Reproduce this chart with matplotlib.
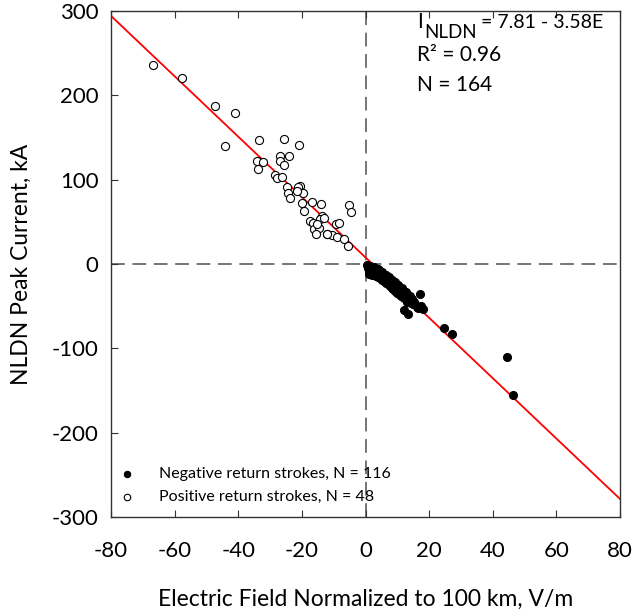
import matplotlib
matplotlib.use("Agg")
import matplotlib.pyplot as plt
import numpy as np
from matplotlib.transforms import IdentityTransform

plt.rcParams['font.family'] = ['Lato', 'DejaVu Sans']
plt.rcParams['axes.unicode_minus'] = False

# Positive return strokes (open circles)
pos_E = [-66.7, -57.8, -47.2, -41.0, -44.1, -33.6, -34.2, -32.2, -33.8, -25.7,
         -21.0, -27.0, -24.1, -26.8, -25.7, -28.6, -27.7, -26.4, -24.7, -20.6,
         -21.2, -19.7, -24.4, -23.7, -20.0, -16.8, -14.0, -19.4, -13.7, -14.4,
         -17.4, -16.4, -16.3, -14.6, -15.7, -12.2, -10.4, -9.1, -9.4, -8.4,
         -6.7, -5.6, -5.3, -4.6, -21.5, -15.2, -12.0, -13.0]
pos_I = [235.7, 221.0, 187.8, 179.5, 140.3, 147.0, 122.6, 120.6, 112.3, 147.9,
         140.8, 128.1, 128.5, 122.6, 117.1, 105.2, 102.0, 102.8, 91.3, 92.9,
         91.3, 84.6, 83.9, 78.3, 72.7, 73.2, 71.5, 62.5, 57.3, 53.0,
         51.0, 49.0, 41.2, 42.3, 35.2, 35.6, 34.0, 32.0, 47.1, 48.6,
         29.7, 21.0, 70.0, 61.7, 86.0, 47.0, 36.0, 55.0]

# Negative return strokes (filled circles)
neg_E = [0.8, 1.0, 1.2, 1.5, 1.7, 2.0, 2.2, 2.4, 2.6, 2.8,
         3.0, 3.2, 3.4, 3.6, 3.8, 4.0, 4.2, 4.4, 4.6, 4.8,
         5.0, 5.2, 5.4, 5.6, 5.8, 6.0, 6.2, 6.4, 6.6, 6.8,
         7.0, 7.2, 7.4, 7.6, 7.8, 8.0, 8.2, 8.4, 8.6, 8.8,
         9.0, 9.2, 9.4, 9.6, 9.8, 10.0, 10.2, 10.4, 10.6, 10.8,
         11.0, 11.2, 11.5, 11.8, 12.0, 12.3, 12.6, 12.9, 13.2, 13.5,
         13.8, 14.1, 14.4, 14.7, 15.0, 15.3, 16.1, 17.0, 18.2, 13.5,
         24.8, 27.1, 44.4, 46.5, 0.6, 0.9, 1.3, 1.9, 2.3, 2.9,
         3.3, 3.9, 4.3, 4.9, 5.3, 5.9, 6.3, 6.9, 7.3, 7.9,
         8.3, 8.9, 9.3, 9.9, 10.3, 10.9, 11.4, 12.2, 12.8, 13.0,
         14.0, 14.6, 15.5, 16.5, 17.5, 12.0, 1.4, 2.1, 3.1, 4.1,
         5.1, 6.1, 7.1, 8.1, 9.1, 10.1]
neg_I = [-3, -8, -12, -5, -10, -6, -13, -9, -4, -11,
         -7, -14, -9, -12, -6, -15, -10, -13, -17, -11,
         -14, -19, -12, -16, -20, -14, -18, -22, -16, -20,
         -24, -18, -22, -26, -20, -24, -28, -22, -26, -30,
         -25, -29, -32, -27, -31, -34, -29, -33, -36, -31,
         -35, -38, -33, -37, -40, -35, -39, -42, -37, -41,
         -44, -40, -46, -43, -48, -44.7, -50.6, -36, -53.8, -59.3,
         -76.3, -83, -110, -155, -1, -5, -7, -3, -8, -10,
         -6, -11, -8, -13, -10, -16, -13, -18, -15, -21,
         -19, -24, -21, -27, -25, -30, -28, -34, -33, -45,
         -38, -42, -47, -52, -50, -55, -2, -4, -9, -7,
         -12, -15, -17, -19, -23, -26]

fit_a = 7.81
fit_b = -3.58
x_lim = (-80, 80)
y_lim = (-300, 300)
x_ticks = [-80, -60, -40, -20, 0, 20, 40, 60, 80]
y_ticks = [-300, -200, -100, 0, 100, 200, 300]

W, H = 635, 616
fig = plt.figure(figsize=(W / 100, H / 100), dpi=100)
ax = fig.add_axes([111 / W, 1 - 517 / H, 509 / W, 506 / H])

ax.axhline(0, color='#505050', lw=1.1, dashes=(9, 5), zorder=1)
ax.axvline(0, color='#505050', lw=1.1, dashes=(9, 5), zorder=1)

xl = np.array(x_lim)
ax.plot(xl, fit_a + fit_b * xl, color='#ff0000', lw=1.3, zorder=2)

ax.scatter(neg_E, neg_I, s=34, facecolor='black', edgecolor='black', lw=0.7, zorder=3,
           label='Negative return strokes, N = 116')
ax.scatter(pos_E, pos_I, s=34, facecolor='white', edgecolor='black', lw=0.8, zorder=3,
           label='Positive return strokes, N = 48')

ax.set_xlim(*x_lim)
ax.set_ylim(*y_lim)
ax.set_xticks(x_ticks)
ax.set_yticks(y_ticks)
ax.tick_params(axis='both', labelsize=16, direction='in', length=5, color='#333333')
ax.tick_params(axis='x', top=True, pad=17)
ax.tick_params(axis='y', pad=9)
for s in ax.spines.values():
    s.set_color('#333333')
    s.set_linewidth(1.0)

ax.set_xlabel('Electric Field Normalized to 100 km, V/m', fontsize=16.5, labelpad=20)
ax.set_ylabel('NLDN Peak Current, kA', fontsize=16.5, labelpad=14)


def fy(py):
    return (517 - py) / 506


def fx(px):
    return (px - 111) / 509


fs_ann = 15
t1 = ax.text(fx(417), fy(22.5), 'I', transform=ax.transAxes, fontsize=fs_ann,
             va='center', ha='left')
fig.canvas.draw()
bb1 = t1.get_window_extent()
t2 = ax.text(bb1.x1 + 1, H - 32, 'NLDN', transform=IdentityTransform(),
             fontsize=13.5, va='center', ha='left')
fig.canvas.draw()
bb2 = t2.get_window_extent()
ax.text(bb2.x1 + 5, H - 22.5, '= 7.81 - 3.58E', transform=IdentityTransform(),
        fontsize=14, va='center', ha='left')
ax.text(fx(417), fy(55), 'R² = 0.96', transform=ax.transAxes, fontsize=fs_ann,
        va='center', ha='left')
ax.text(fx(417), fy(85), 'N = 164', transform=ax.transAxes, fontsize=fs_ann,
        va='center', ha='left')

leg = ax.legend(loc='lower left', bbox_to_anchor=(8 / 509, 0.026), frameon=False,
                fontsize=11.5, handlelength=1.0, handletextpad=1.5, borderpad=0,
                borderaxespad=0, labelspacing=0.55, scatterpoints=1, markerscale=0.8)

fig.savefig('out.png', dpi=100)
